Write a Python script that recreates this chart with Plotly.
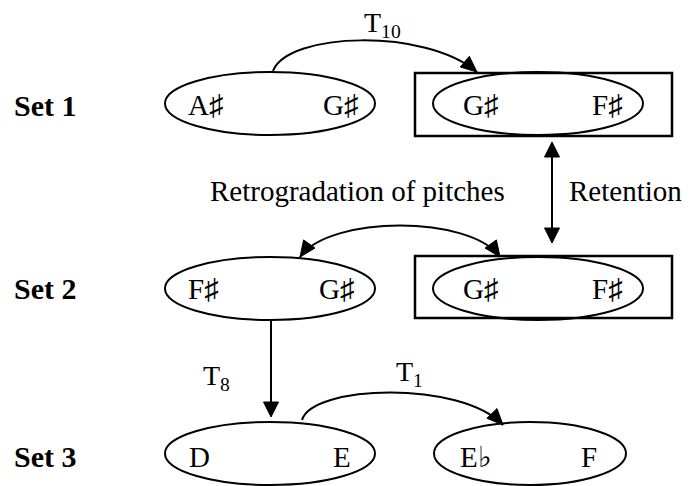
import math
import plotly.graph_objects as go

# ---- content ----
set_labels = ["Set 1", "Set 2", "Set 3"]
left_pitches = [["A♯", "G♯"], ["F♯", "G♯"], ["D", "E"]]
right_pitches = [["G♯", "F♯"], ["G♯", "F♯"], ["E♭", "F"]]
boxed_rows = [True, True, False]
transform_labels = ["T<sub>10</sub>", "T<sub>8</sub>", "T<sub>1</sub>"]
relation_labels = ["Retrogradation of pitches", "Retention"]

# ---- layout geometry (pixel space) ----
W, H = 694, 486
row_y = [103.5, 288.5, 453.5]
left_cx, left_rx = 270, 105
right_cx = [538, 538, 530]
right_rx = [105, 105, 96]
ell_ry = 31.5
left_text_x = [[205, 340], [203, 336], [199, 342]]
right_text_x = [[480, 607], [480, 607], [476, 589]]
text_dy = [1.5, 0, 3]
box_x = [415, 672]
box_y = [[73, 136], [256, 318]]
set_label_x = 45

FONT = "Liberation Serif, Times New Roman, serif"
LW = 2

fig = go.Figure()
shapes = []
annotations = []


def add_text(x, y, text, size=29, bold=False, anchor="center"):
    if bold:
        text = "<b>" + text + "</b>"
    annotations.append(dict(x=x, y=y, xref="x", yref="y", text=text, showarrow=False,
                            xanchor=anchor, yanchor="middle",
                            font=dict(family=FONT, size=size, color="black")))


def head(tip, frm, length=16, half=7):
    dx, dy = tip[0] - frm[0], tip[1] - frm[1]
    d = math.hypot(dx, dy)
    ux, uy = dx / d, dy / d
    bx, by = tip[0] - ux * length, tip[1] - uy * length
    px, py = -uy * half, ux * half
    path = f"M {tip[0]},{tip[1]} L {bx+px},{by+py} L {bx-px},{by-py} Z"
    shapes.append(dict(type="path", path=path, xref="x", yref="y",
                       fillcolor="black", line=dict(color="black", width=1)))


def curve(p0, p1, p2, p3, start_head=False, end_head=False):
    path = f"M {p0[0]},{p0[1]} C {p1[0]},{p1[1]} {p2[0]},{p2[1]} {p3[0]},{p3[1]}"
    shapes.append(dict(type="path", path=path, xref="x", yref="y",
                       line=dict(color="black", width=LW)))
    if end_head:
        head(p3, p2)
    if start_head:
        head(p0, p1)


def vline(x, y0, y1, start_head=False, end_head=True):
    shapes.append(dict(type="line", x0=x, x1=x, y0=y0 + (10 if start_head else 0),
                       y1=y1 - (10 if end_head else 0), xref="x", yref="y",
                       line=dict(color="black", width=LW)))
    if end_head:
        head((x, y1), (x, y0), length=15, half=7.5)
    if start_head:
        head((x, y0), (x, y1), length=15, half=7.5)


for i, lab in enumerate(set_labels):
    y = row_y[i]
    add_text(set_label_x, y + text_dy[i], lab, size=30, bold=True)
    shapes.append(dict(type="circle", xref="x", yref="y",
                       x0=left_cx - left_rx, x1=left_cx + left_rx,
                       y0=y - ell_ry, y1=y + ell_ry, line=dict(color="black", width=LW)))
    shapes.append(dict(type="circle", xref="x", yref="y",
                       x0=right_cx[i] - right_rx[i], x1=right_cx[i] + right_rx[i],
                       y0=y - ell_ry, y1=y + ell_ry, line=dict(color="black", width=LW)))
    for j in range(2):
        add_text(left_text_x[i][j], y + text_dy[i], left_pitches[i][j])
        add_text(right_text_x[i][j], y + text_dy[i], right_pitches[i][j])
    if boxed_rows[i]:
        shapes.append(dict(type="rect", xref="x", yref="y",
                           x0=box_x[0], x1=box_x[1], y0=box_y[i][0], y1=box_y[i][1],
                           line=dict(color="black", width=2.5)))

# T10 arc
curve((273, 71), (288, 32), (425, 28), (477, 72), end_head=True)
add_text(382, 24, transform_labels[0], size=28)
# Retrogradation double arc
curve((300, 257), (330, 215), (470, 215), (500, 257), start_head=True, end_head=True)
add_text(357, 191, relation_labels[0], size=29)
add_text(567, 191, relation_labels[1], size=29, anchor="left")
# Retention double arrow
vline(552, 142, 243, start_head=True, end_head=True)
# T8 arrow
vline(271, 320, 417, start_head=False, end_head=True)
add_text(216, 377, transform_labels[1], size=28)
# T1 arc
curve((302, 420), (312, 385), (460, 380), (503, 425), end_head=True)
add_text(409, 373, transform_labels[2], size=28)

fig.update_layout(
    width=W, height=H, margin=dict(l=0, r=0, t=0, b=0),
    paper_bgcolor="white", plot_bgcolor="white",
    xaxis=dict(range=[0, W], visible=False, fixedrange=True),
    yaxis=dict(range=[H, 0], visible=False, fixedrange=True),
    shapes=shapes, annotations=annotations, showlegend=False,
)
fig.write_html(
    "out.html",
    config={"displayModeBar": False},
    post_script="document.body.style.margin='0';document.body.style.overflow='hidden';",
)
